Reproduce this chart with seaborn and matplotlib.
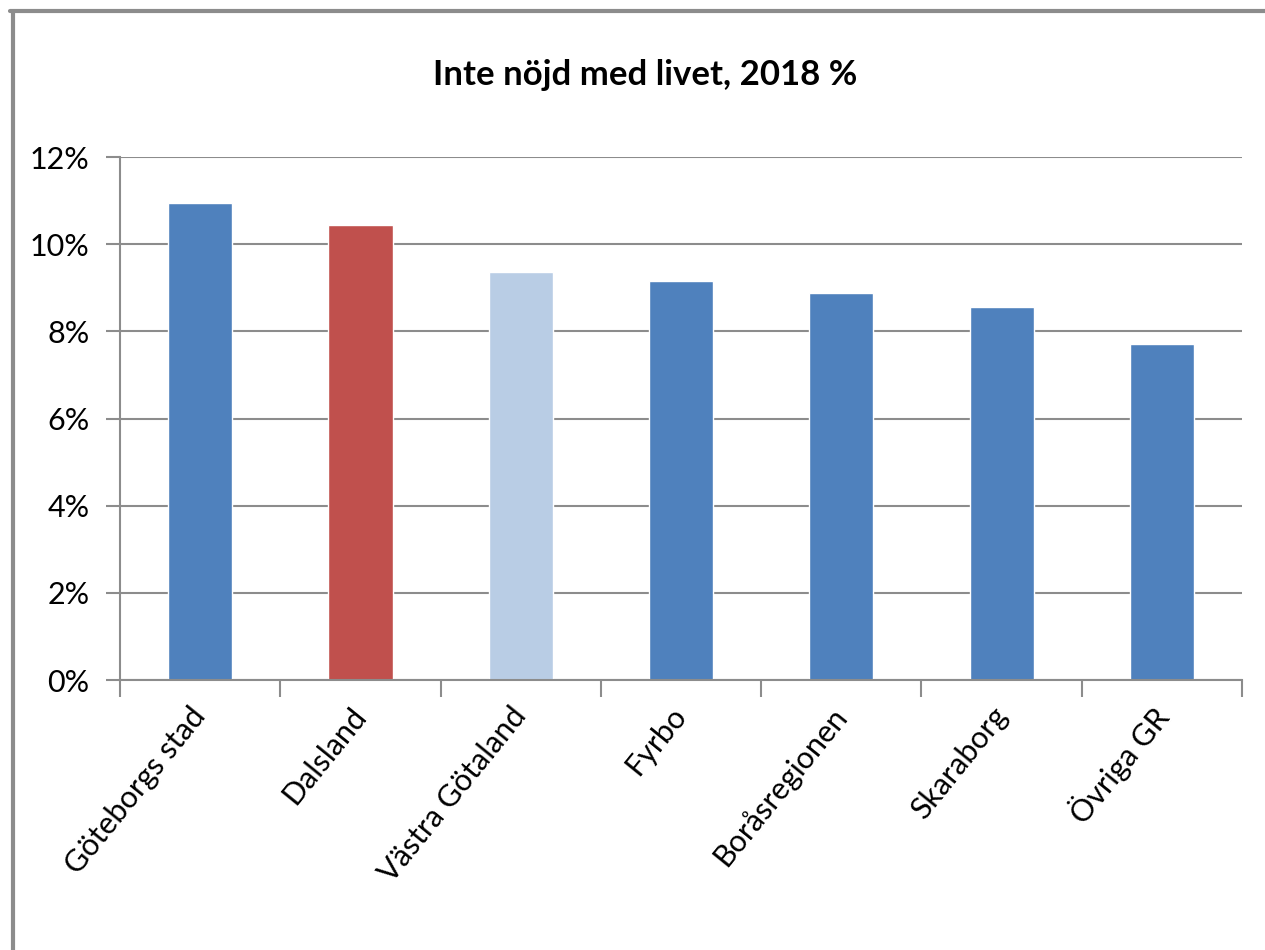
import matplotlib
matplotlib.use("Agg")
import matplotlib.pyplot as plt
import seaborn as sns
import pandas as pd
from matplotlib.lines import Line2D
from matplotlib.ticker import FuncFormatter, MultipleLocator

# data
regions = ["Göteborgs stad", "Dalsland", "Västra Götaland", "Fyrbo",
           "Boråsregionen", "Skaraborg", "Övriga GR"]
values = [10.95, 10.43, 9.37, 9.16, 8.88, 8.55, 7.72]
colors = ["#4F81BD", "#C0504D", "#B9CDE5", "#4F81BD", "#4F81BD", "#4F81BD", "#4F81BD"]

df = pd.DataFrame({"region": regions, "value": values})

sns.set_style("white")
plt.rcParams["font.family"] = ["Lato", "DejaVu Sans"]
plt.rcParams["text.color"] = "black"
plt.rcParams["xtick.labelcolor"] = "black"
plt.rcParams["ytick.labelcolor"] = "black"

fig = plt.figure(figsize=(12.65, 9.5), dpi=100)
ax = fig.add_axes([0.0949, 0.2842, 0.8869, 0.5505])

sns.barplot(data=df, x="region", y="value", hue="region", palette=colors,
            width=0.4, legend=False, ax=ax, saturation=1)

ax.set_ylim(0, 12)
ax.set_xlim(-0.5, len(regions) - 0.5)
ax.yaxis.set_major_locator(MultipleLocator(2))
ax.yaxis.set_major_formatter(FuncFormatter(lambda v, p: f"{v:.0f}%"))
ax.grid(axis="y", color="#8C8C8C", linewidth=1.5)
ax.set_axisbelow(True)
ax.set_xlabel("")
ax.set_ylabel("")

for s in ["top", "right"]:
    ax.spines[s].set_visible(False)
for s in ["left", "bottom"]:
    ax.spines[s].set_color("#8C8C8C")
    ax.spines[s].set_linewidth(1.5)

# x ticks between categories, labels at centers
ax.set_xticks([i - 0.5 for i in range(len(regions) + 1)], minor=False)
ax.set_xticklabels([])
ax.set_xticks(range(len(regions)), minor=True)
ax.set_xticklabels(regions, minor=True, rotation=51, ha="right",
                   va="center", rotation_mode="anchor", fontsize=22)
ax.tick_params(axis="x", which="major", length=12, width=1.5, color="#8C8C8C",
               direction="out", bottom=True)
ax.tick_params(axis="x", which="minor", length=0, pad=22)
ax.tick_params(axis="y", length=10, width=1.5, color="#8C8C8C", left=True,
               labelsize=22, pad=12)

fig.text(0.51, 0.921, "Inte nöjd med livet, 2018 %", ha="center", va="center",
         fontsize=25, fontweight="bold", color="black")

# outer frame lines (top and left)
fig.add_artist(Line2D([0.008, 1.0], [0.988, 0.988], color="#8C8C8C", linewidth=3,
                      transform=fig.transFigure))
fig.add_artist(Line2D([0.010, 0.010], [0.0, 0.988], color="#8C8C8C", linewidth=3,
                      transform=fig.transFigure))

fig.savefig("out.png", dpi=100)
